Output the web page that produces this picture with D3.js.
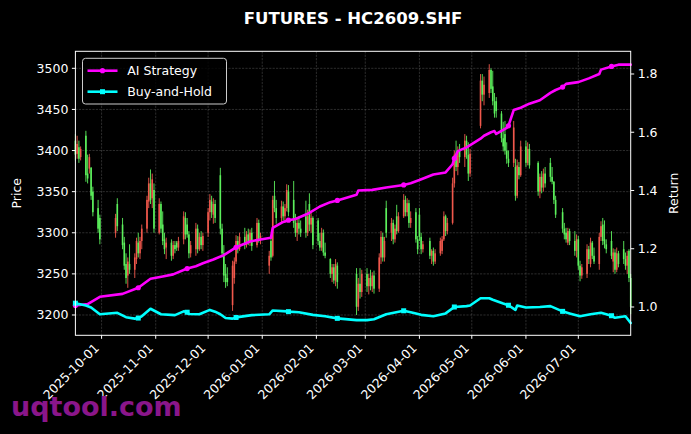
<!DOCTYPE html>
<html><head><meta charset="utf-8">
<script src="https://cdn.jsdelivr.net/npm/d3@7"></script>
<style>body{margin:0;background:#000;}svg{display:block;}text{font-family:"DejaVu Sans",sans-serif;fill:#fff;}</style>
</head><body><svg id="c" width="691" height="434"></svg>
<script>
// Daily candles: [date, open, high, low, close]
const candles = [
["2025-09-16",3412,3420,3388,3395],["2025-09-17",3396,3418,3390,3408],["2025-09-18",3404,3412,3385,3390],["2025-09-19",3392,3405,3388,3402],
["2025-09-22",3418,3424,3362,3370],["2025-09-23",3372,3395,3360,3366],["2025-09-24",3378,3396,3372,3392],["2025-09-25",3379,3380,3340,3345],
["2025-09-26",3350,3356,3320,3325],["2025-09-29",3330,3340,3300,3305],["2025-09-30",3318,3322,3286,3292],
["2025-10-09",3300,3323,3294,3318],["2025-10-10",3335,3342,3302,3308],["2025-10-13",3310,3318,3280,3285],["2025-10-14",3288,3295,3255,3260],
["2025-10-15",3262,3275,3238,3245],["2025-10-16",3248,3270,3233,3265],["2025-10-17",3262,3286,3250,3255],["2025-10-20",3255,3275,3245,3270],
["2025-10-21",3268,3294,3262,3290],["2025-10-22",3288,3300,3270,3275],["2025-10-23",3275,3295,3268,3290],["2025-10-24",3290,3310,3280,3305],
["2025-10-27",3305,3345,3300,3340],["2025-10-28",3338,3367,3330,3360],["2025-10-29",3360,3377,3335,3340],["2025-10-30",3342,3372,3330,3365],
["2025-10-31",3352,3360,3300,3305],
["2025-11-03",3300,3342,3298,3335],["2025-11-04",3335,3338,3300,3305],["2025-11-05",3310,3326,3285,3290],["2025-11-06",3292,3300,3274,3280],
["2025-11-07",3282,3294,3268,3288],["2025-11-10",3288,3292,3266,3272],["2025-11-11",3272,3290,3268,3285],["2025-11-12",3285,3290,3275,3280],
["2025-11-13",3288,3290,3278,3282],["2025-11-14",3282,3295,3278,3290],["2025-11-17",3292,3326,3286,3320],["2025-11-18",3318,3325,3292,3298],
["2025-11-19",3310,3318,3294,3298],["2025-11-20",3298,3302,3269,3275],["2025-11-21",3275,3290,3270,3285],["2025-11-24",3280,3312,3272,3305],
["2025-11-25",3305,3310,3275,3280],["2025-11-26",3280,3300,3278,3295],["2025-11-27",3295,3302,3280,3285],["2025-11-28",3285,3300,3278,3296],
["2025-12-01",3300,3330,3295,3325],["2025-12-02",3325,3347,3315,3340],["2025-12-03",3338,3345,3318,3325],["2025-12-04",3322,3342,3311,3335],
["2025-12-05",3335,3340,3312,3318],["2025-12-08",3370,3379,3298,3305],["2025-12-09",3305,3311,3270,3275],["2025-12-10",3275,3285,3240,3248],
["2025-12-11",3250,3262,3233,3240],["2025-12-12",3245,3258,3235,3240],["2025-12-15",3212,3266,3205,3260],["2025-12-16",3245,3270,3238,3265],
["2025-12-17",3265,3297,3262,3290],["2025-12-18",3290,3296,3275,3280],["2025-12-19",3280,3300,3278,3295],["2025-12-22",3295,3306,3280,3285],
["2025-12-23",3285,3302,3282,3298],["2025-12-24",3298,3305,3285,3290],["2025-12-25",3290,3304,3284,3300],["2025-12-26",3300,3306,3278,3284],
["2025-12-29",3285,3318,3282,3312],["2025-12-30",3312,3316,3288,3292],["2025-12-31",3292,3300,3286,3296],
["2026-01-05",3260,3278,3250,3272],["2026-01-06",3290,3294,3266,3270],["2026-01-07",3272,3345,3270,3340],["2026-01-08",3345,3363,3325,3330],
["2026-01-09",3330,3340,3311,3318],["2026-01-12",3318,3339,3312,3332],["2026-01-13",3332,3338,3315,3320],["2026-01-14",3320,3335,3312,3330],
["2026-01-15",3330,3359,3326,3352],["2026-01-16",3350,3358,3320,3325],["2026-01-19",3340,3363,3306,3312],["2026-01-20",3312,3323,3295,3300],
["2026-01-21",3300,3318,3290,3312],["2026-01-22",3312,3320,3298,3305],["2026-01-23",3305,3315,3295,3300],["2026-01-26",3320,3339,3294,3300],
["2026-01-27",3300,3328,3296,3320],["2026-01-28",3335,3348,3302,3310],["2026-01-29",3310,3325,3300,3318],["2026-01-30",3318,3320,3280,3285],
["2026-02-02",3315,3318,3285,3290],["2026-02-03",3290,3300,3278,3282],["2026-02-04",3282,3306,3278,3300],["2026-02-05",3300,3304,3272,3276],
["2026-02-06",3276,3288,3269,3272],["2026-02-09",3268,3269,3245,3250],["2026-02-10",3250,3262,3240,3258],["2026-02-11",3258,3262,3238,3242],
["2026-02-12",3242,3268,3235,3262],["2026-02-13",3260,3264,3232,3240],
["2026-02-24",3250,3257,3200,3210],["2026-02-25",3210,3245,3205,3238],["2026-02-26",3238,3257,3220,3228],["2026-02-27",3228,3255,3222,3250],
["2026-03-02",3250,3257,3228,3235],["2026-03-03",3235,3250,3225,3245],["2026-03-04",3245,3255,3230,3235],["2026-03-05",3235,3252,3228,3248],
["2026-03-06",3248,3254,3226,3232],["2026-03-09",3232,3275,3228,3270],["2026-03-10",3270,3302,3262,3295],["2026-03-11",3295,3300,3265,3270],
["2026-03-12",3270,3295,3265,3290],["2026-03-13",3330,3339,3294,3300],["2026-03-16",3300,3318,3290,3312],["2026-03-17",3312,3316,3286,3292],
["2026-03-18",3292,3310,3288,3305],["2026-03-19",3320,3334,3298,3302],["2026-03-20",3302,3325,3300,3320],["2026-03-23",3320,3347,3318,3340],
["2026-03-24",3340,3345,3320,3325],["2026-03-25",3325,3342,3320,3336],["2026-03-26",3336,3340,3306,3312],["2026-03-27",3312,3326,3306,3318],
["2026-03-30",3325,3330,3288,3292],["2026-03-31",3292,3296,3274,3280],
["2026-04-01",3322,3330,3290,3295],["2026-04-02",3295,3300,3274,3280],["2026-04-03",3280,3290,3276,3286],["2026-04-07",3290,3294,3268,3272],
["2026-04-08",3272,3280,3262,3278],["2026-04-09",3278,3282,3260,3265],["2026-04-10",3265,3280,3262,3275],["2026-04-13",3275,3294,3272,3290],
["2026-04-14",3278,3296,3274,3292],["2026-04-15",3292,3326,3290,3320],["2026-04-16",3320,3322,3296,3302],["2026-04-17",3302,3318,3298,3312],
["2026-04-20",3312,3367,3310,3360],["2026-04-21",3360,3400,3355,3395],["2026-04-22",3395,3412,3375,3380],["2026-04-23",3380,3405,3370,3400],
["2026-04-24",3400,3408,3385,3392],["2026-04-27",3392,3420,3380,3412],["2026-04-28",3412,3418,3390,3395],["2026-04-29",3395,3410,3363,3372],
["2026-04-30",3372,3402,3368,3396],
["2026-05-06",3430,3493,3427,3485],["2026-05-07",3485,3493,3460,3468],["2026-05-08",3468,3490,3455,3480],["2026-05-11",3470,3505,3464,3498],
["2026-05-12",3498,3500,3470,3475],["2026-05-13",3478,3497,3455,3460],["2026-05-14",3460,3470,3440,3445],["2026-05-15",3460,3465,3440,3448],
["2026-05-18",3445,3448,3410,3415],["2026-05-19",3415,3435,3399,3405],["2026-05-20",3420,3436,3395,3400],["2026-05-21",3400,3410,3384,3390],
["2026-05-22",3390,3400,3380,3385],["2026-05-25",3385,3436,3380,3428],["2026-05-26",3380,3390,3339,3345],["2026-05-27",3345,3389,3342,3382],
["2026-05-28",3380,3386,3365,3370],["2026-05-29",3370,3412,3368,3405],
["2026-06-01",3405,3412,3380,3385],["2026-06-02",3385,3410,3382,3402],["2026-06-03",3402,3408,3378,3382],
["2026-06-08",3385,3387,3345,3350],["2026-06-09",3350,3372,3342,3368],["2026-06-10",3368,3375,3348,3355],["2026-06-11",3355,3378,3350,3372],
["2026-06-12",3372,3380,3355,3360],["2026-06-15",3385,3391,3362,3368],["2026-06-16",3368,3380,3359,3362],["2026-06-17",3362,3363,3335,3340],
["2026-06-18",3340,3345,3318,3322],["2026-06-22",3325,3330,3300,3305],["2026-06-23",3305,3312,3292,3298],["2026-06-24",3300,3306,3288,3292],
["2026-06-25",3288,3306,3285,3302],["2026-06-26",3302,3305,3285,3290],["2026-06-29",3290,3302,3272,3278],["2026-06-30",3278,3298,3270,3292],
["2026-07-01",3292,3296,3255,3260],["2026-07-02",3260,3266,3241,3248],["2026-07-03",3248,3262,3244,3258],["2026-07-06",3250,3286,3245,3280],
["2026-07-07",3280,3284,3262,3268],["2026-07-08",3262,3294,3258,3288],["2026-07-09",3288,3290,3268,3272],["2026-07-10",3272,3282,3262,3265],
["2026-07-13",3262,3300,3255,3295],["2026-07-14",3295,3314,3290,3308],["2026-07-15",3310,3318,3285,3290],["2026-07-16",3292,3315,3281,3286],
["2026-07-17",3286,3292,3275,3280],["2026-07-20",3290,3302,3268,3272],["2026-07-21",3265,3281,3252,3276],["2026-07-22",3276,3280,3250,3255],
["2026-07-23",3255,3282,3252,3275],["2026-07-24",3275,3278,3258,3262],["2026-07-27",3280,3290,3262,3268],["2026-07-28",3268,3276,3255,3260],
["2026-07-29",3260,3278,3250,3272],["2026-07-30",3278,3280,3240,3245],["2026-07-31",3245,3250,3201,3210]
];

// Cumulative return lines (right axis): [date, value]
const aiStrategy = [
["2025-09-16",1.005],["2025-09-23",1.010],["2025-09-30",1.035],["2025-10-13",1.045],["2025-10-22",1.066],["2025-10-29",1.097],
["2025-11-05",1.105],["2025-11-11",1.112],["2025-11-19",1.132],["2025-11-24",1.140],["2025-11-28",1.150],["2025-12-04",1.163],
["2025-12-10",1.178],["2025-12-17",1.205],["2025-12-25",1.225],["2025-12-31",1.232],["2026-01-06",1.238],["2026-01-07",1.272],
["2026-01-13",1.292],["2026-01-16",1.298],["2026-01-20",1.302],["2026-01-27",1.320],["2026-02-03",1.345],["2026-02-09",1.360],
["2026-02-13",1.366],["2026-02-24",1.385],["2026-02-25",1.400],["2026-03-05",1.402],["2026-03-13",1.410],["2026-03-23",1.419],
["2026-03-27",1.425],["2026-04-01",1.436],["2026-04-09",1.455],["2026-04-16",1.462],["2026-04-20",1.490],["2026-04-21",1.510],
["2026-04-23",1.535],["2026-04-28",1.548],["2026-05-06",1.578],["2026-05-08",1.588],["2026-05-12",1.600],["2026-05-14",1.604],
["2026-05-15",1.594],["2026-05-21",1.615],["2026-05-22",1.622],["2026-05-25",1.676],["2026-05-29",1.684],["2026-06-03",1.698],
["2026-06-09",1.710],["2026-06-15",1.735],["2026-06-18",1.745],["2026-06-22",1.755],["2026-06-24",1.766],["2026-07-01",1.772],
["2026-07-07",1.785],["2026-07-13",1.800],["2026-07-14",1.815],["2026-07-20",1.826],["2026-07-24",1.832],["2026-07-31",1.832]
];
const buyAndHold = [
["2025-09-16",1.013],["2025-09-22",1.005],["2025-09-25",0.998],["2025-09-30",0.975],["2025-10-10",0.980],["2025-10-15",0.965],
["2025-10-20",0.960],["2025-10-22",0.962],["2025-10-24",0.968],["2025-10-29",0.994],["2025-11-04",0.975],["2025-11-12",0.972],
["2025-11-17",0.985],["2025-11-19",0.982],["2025-11-20",0.976],["2025-11-26",0.975],["2025-12-02",0.990],["2025-12-05",0.984],
["2025-12-08",0.975],["2025-12-11",0.962],["2025-12-15",0.960],["2025-12-17",0.964],["2025-12-19",0.966],["2025-12-26",0.972],
["2026-01-05",0.975],["2026-01-07",0.988],["2026-01-15",0.985],["2026-01-16",0.984],["2026-01-22",0.982],["2026-01-30",0.973],
["2026-02-06",0.968],["2026-02-13",0.961],["2026-02-24",0.955],["2026-03-02",0.955],["2026-03-06",0.958],["2026-03-13",0.975],
["2026-03-23",0.987],["2026-03-27",0.982],["2026-04-02",0.973],["2026-04-09",0.968],["2026-04-16",0.978],["2026-04-21",1.000],
["2026-04-28",1.003],["2026-04-30",1.005],["2026-05-06",1.030],["2026-05-11",1.030],["2026-05-13",1.025],["2026-05-19",1.012],
["2026-05-22",1.006],["2026-05-26",0.990],["2026-05-27",1.005],["2026-06-01",0.998],["2026-06-09",1.000],["2026-06-15",1.003],
["2026-06-22",0.985],["2026-06-26",0.978],["2026-07-02",0.968],["2026-07-08",0.975],["2026-07-14",0.980],["2026-07-17",0.975],
["2026-07-20",0.970],["2026-07-22",0.963],["2026-07-28",0.968],["2026-07-31",0.945]
];
const markerDates = ["2025-09-16","2025-10-22","2025-11-19","2025-12-17","2026-01-16","2026-02-13","2026-03-23","2026-04-21","2026-05-22","2026-06-22","2026-07-20"];

const xTickLabels = ["2025-10-01","2025-11-01","2025-12-01","2026-01-01","2026-02-01","2026-03-01","2026-04-01","2026-05-01","2026-06-01","2026-07-01"];
const priceTicks = [3200,3250,3300,3350,3400,3450,3500];
const returnTicks = [1.0,1.2,1.4,1.6,1.8];
const xStart = "2025-09-16", xEnd = "2026-07-31";
const priceDomain = [3175.3, 3520.7];
const returnDomain = [0.9028, 1.8779];
const titleText = "FUTURES - HC2609.SHF";

const parse = d3.utcParse("%Y-%m-%d");
const L = 75.4, R = 630.7, T = 51.3, B = 335.3;
const svg = d3.select("#c");
svg.append("rect").attr("width",691).attr("height",434).attr("fill","#000");

const x = d3.scaleUtc().domain([parse(xStart), parse(xEnd)]).range([L, R]);
const yP = d3.scaleLinear().domain(priceDomain).range([B, T]);
const yR = d3.scaleLinear().domain(returnDomain).range([B, T]);

// grid
const g = svg.append("g");
g.selectAll("line.h").data(priceTicks).join("line")
 .attr("x1",L).attr("x2",R).attr("y1",d=>yP(d)).attr("y2",d=>yP(d))
 .attr("stroke","#888").attr("stroke-opacity",0.55).attr("stroke-width",0.6).attr("stroke-dasharray","2.2,1.2");
g.selectAll("line.v").data(xTickLabels).join("line")
 .attr("x1",d=>x(parse(d))).attr("x2",d=>x(parse(d))).attr("y1",T).attr("y2",B)
 .attr("stroke","#888").attr("stroke-opacity",0.55).attr("stroke-width",0.6).attr("stroke-dasharray","2.2,1.2");

// candles
const up = "#f0584c", down = "#5cf05c";
const cg = svg.append("g");
candles.forEach(([d,o,h,l,c])=>{
  const cx = x(parse(d)), col = c >= o ? up : down;
  cg.append("line").attr("x1",cx).attr("x2",cx).attr("y1",yP(h)).attr("y2",yP(l)).attr("stroke",col).attr("stroke-width",0.9);
  const y0 = yP(Math.max(o,c)), y1 = yP(Math.min(o,c));
  cg.append("rect").attr("x",cx-0.8).attr("width",1.6).attr("y",y0).attr("height",Math.max(0.8,y1-y0)).attr("fill",col);
});

// lines
function drawLine(data, color, shape){
  const line = d3.line().x(d=>x(parse(d[0]))).y(d=>yR(d[1]));
  svg.append("path").datum(data).attr("d",line).attr("fill","none").attr("stroke",color)
     .attr("stroke-width",2.6).attr("stroke-linejoin","round").attr("stroke-linecap","round");
  const m = data.filter(d=>markerDates.includes(d[0]));
  if(shape==="circle"){
    svg.selectAll(null).data(m).join("circle").attr("cx",d=>x(parse(d[0]))).attr("cy",d=>yR(d[1])).attr("r",2.6).attr("fill",color);
  } else {
    svg.selectAll(null).data(m).join("rect").attr("x",d=>x(parse(d[0]))-2.5).attr("y",d=>yR(d[1])-2.5).attr("width",5).attr("height",5).attr("fill",color);
  }
}
drawLine(aiStrategy, "#ff00ff", "circle");
drawLine(buyAndHold, "#00ffff", "square");

// spines
svg.append("rect").attr("x",L).attr("y",T).attr("width",R-L).attr("height",B-T).attr("fill","none").attr("stroke","#fff").attr("stroke-width",1);

// axes ticks
const fs = 12.5;
priceTicks.forEach(t=>{
  svg.append("line").attr("x1",L-3.5).attr("x2",L).attr("y1",yP(t)).attr("y2",yP(t)).attr("stroke","#fff");
  svg.append("text").attr("x",L-7).attr("y",yP(t)).attr("dy","0.36em").attr("text-anchor","end").attr("font-size",fs).text(t);
});
returnTicks.forEach(t=>{
  svg.append("line").attr("x1",R).attr("x2",R+3.5).attr("y1",yR(t)).attr("y2",yR(t)).attr("stroke","#fff");
  svg.append("text").attr("x",R+7).attr("y",yR(t)).attr("dy","0.36em").attr("text-anchor","start").attr("font-size",fs).text(t.toFixed(1));
});
xTickLabels.forEach(t=>{
  const tx = x(parse(t));
  svg.append("line").attr("x1",tx).attr("x2",tx).attr("y1",B).attr("y2",B+3.5).attr("stroke","#fff");
  svg.append("text").attr("transform",`translate(${tx-1.8},${B+13.5}) rotate(-45)`).attr("text-anchor","end").attr("font-size",fs).text(t);
});

// axis labels
svg.append("text").attr("transform",`translate(21,${(T+B)/2}) rotate(-90)`).attr("text-anchor","middle").attr("font-size",fs).text("Price");
svg.append("text").attr("transform",`translate(678,${(T+B)/2}) rotate(-90)`).attr("text-anchor","middle").attr("font-size",fs).text("Return");

// title
svg.append("text").attr("x",(L+R)/2).attr("y",23.5).attr("text-anchor","middle").attr("font-size",16.5).attr("font-weight","bold").text(titleText);

// legend
const lg = svg.append("g");
lg.append("rect").attr("x",82.5).attr("y",58.3).attr("width",144).attr("height",45.7).attr("rx",3)
  .attr("fill","#000").attr("fill-opacity",0.8).attr("stroke","#cccccc").attr("stroke-width",1);
[["AI Strategy","#ff00ff","circle",70.7],["Buy-and-Hold","#00ffff","square",91.7]].forEach(([name,col,shape,yy])=>{
  lg.append("line").attr("x1",87.5).attr("x2",117.5).attr("y1",yy).attr("y2",yy).attr("stroke",col).attr("stroke-width",2.6);
  if(shape==="circle") lg.append("circle").attr("cx",102.5).attr("cy",yy).attr("r",2.6).attr("fill",col);
  else lg.append("rect").attr("x",100).attr("y",yy-2.5).attr("width",5).attr("height",5).attr("fill",col);
  lg.append("text").attr("x",127.3).attr("y",yy).attr("dy","0.36em").attr("font-size",fs).text(name);
});

// watermark
svg.append("text").attr("x",11).attr("y",415.5).attr("font-size",27).attr("font-weight","bold")
  .style("fill","#8a168a").text("uqtool.com");
</script>
</body></html>
